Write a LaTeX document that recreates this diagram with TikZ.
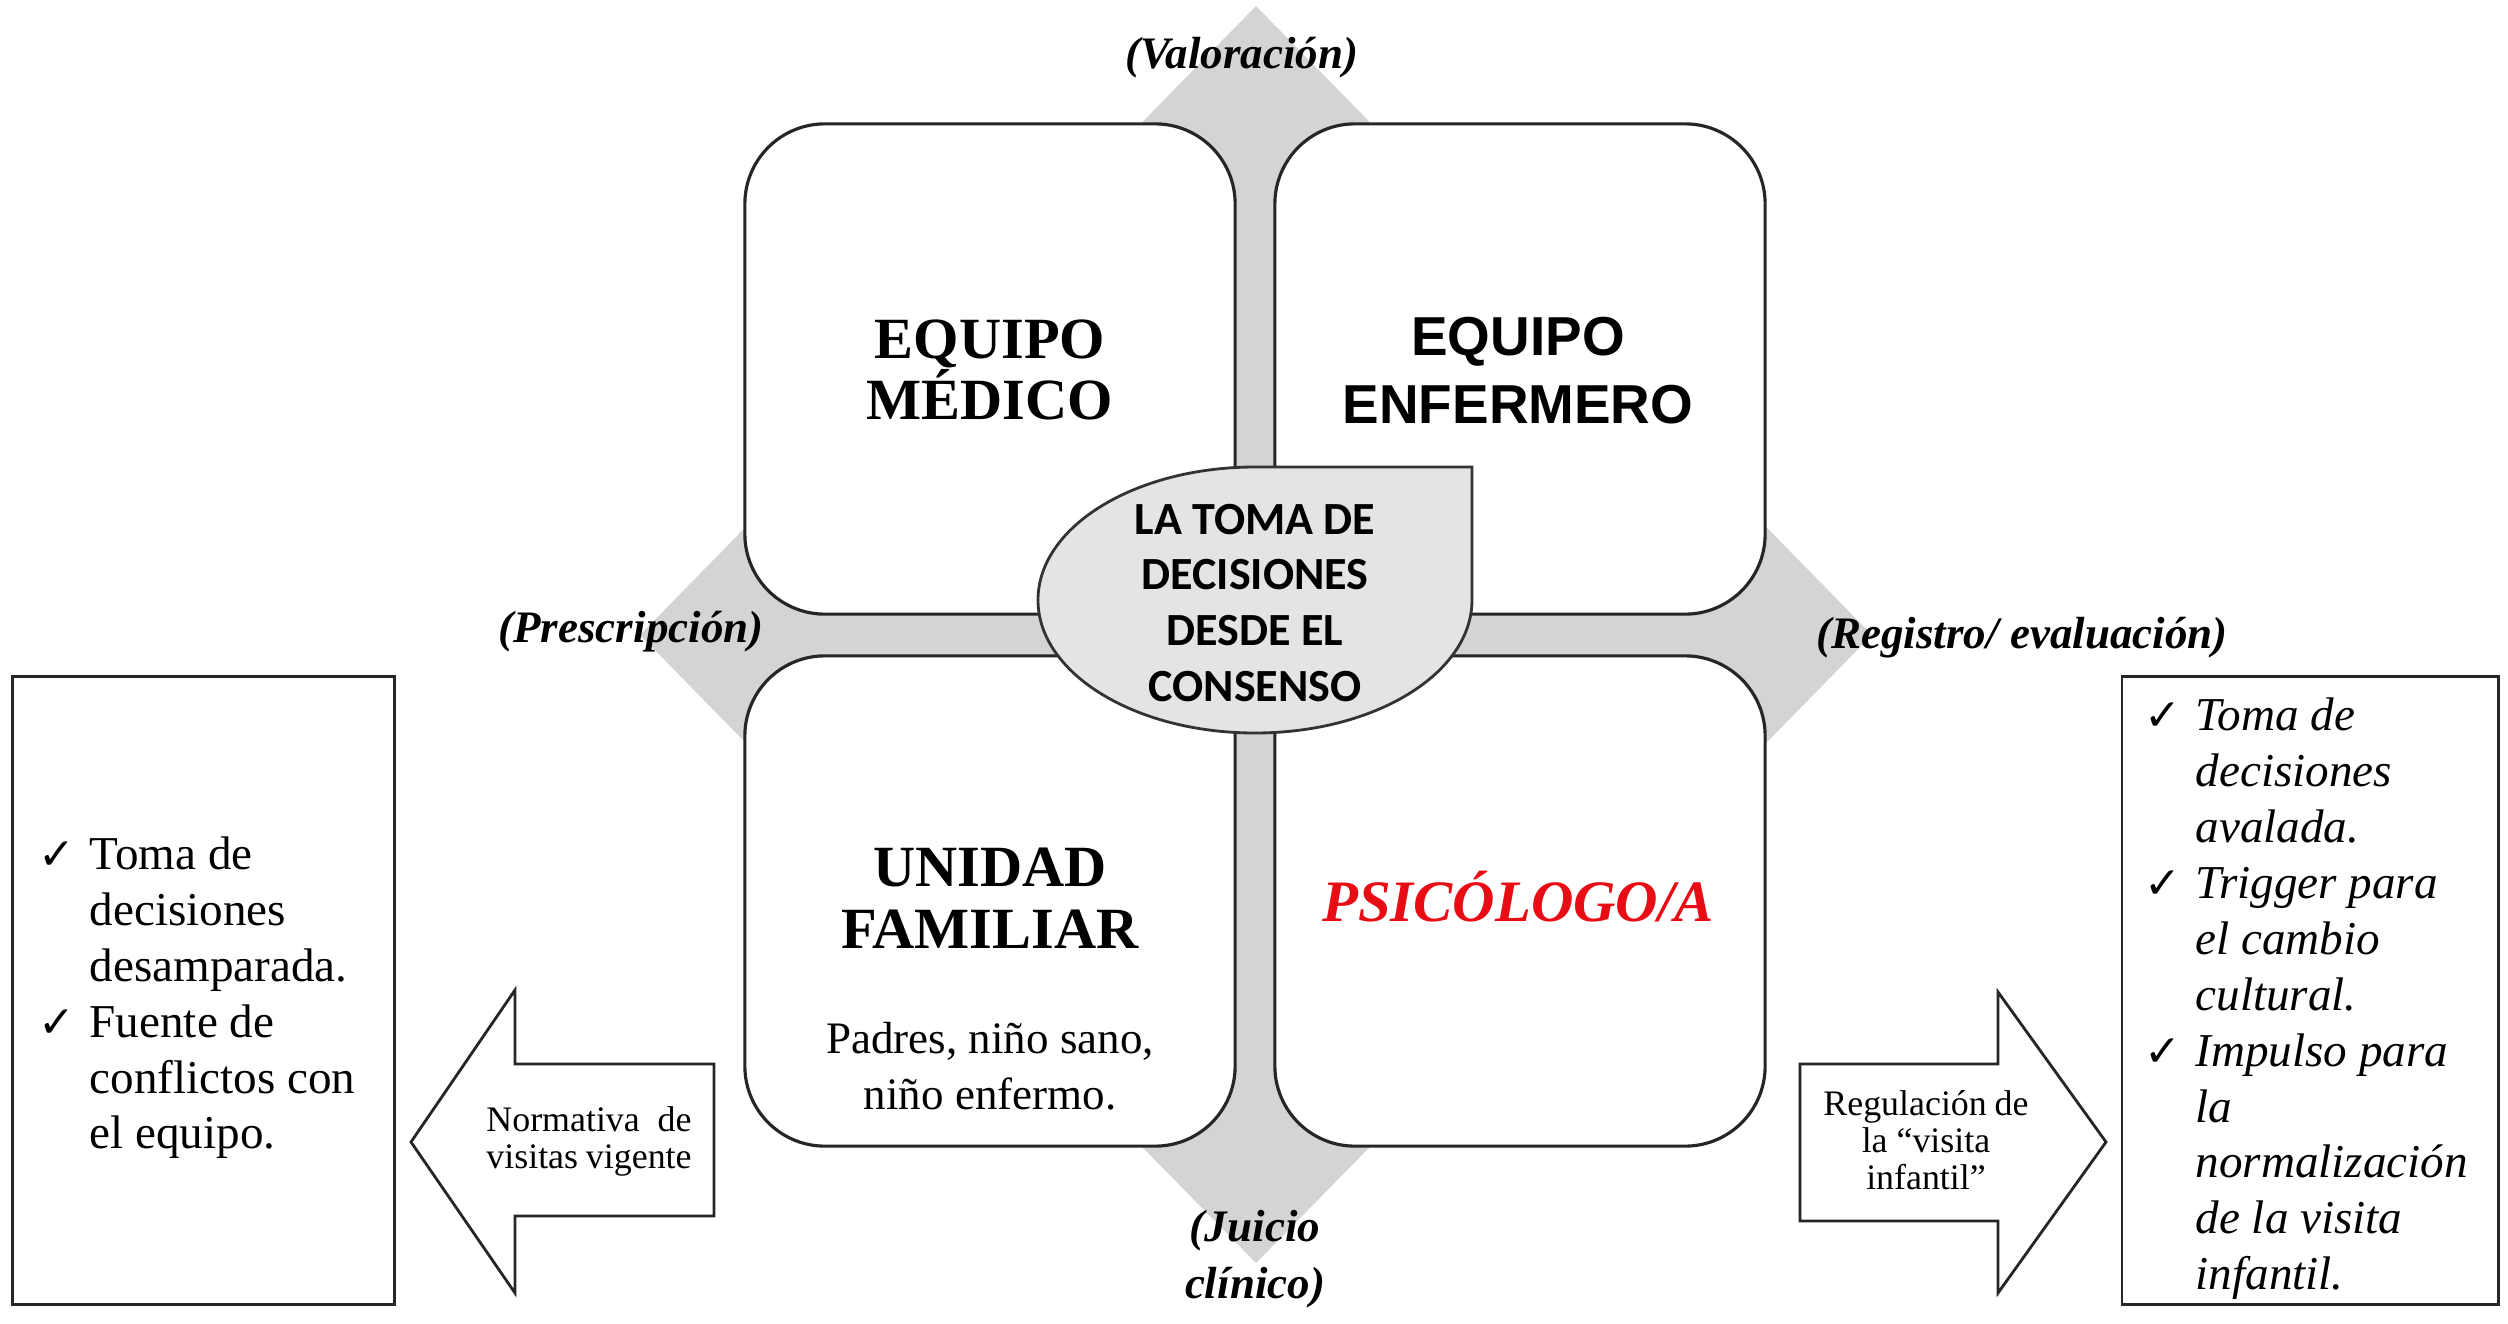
\documentclass[tikz,border=0pt]{standalone}
\usepackage{fontspec}
\setmainfont{Liberation Serif}
\newfontfamily\ArialLike{Liberation Sans}
\newfontfamily\CalibLike{Carlito}
\newfontfamily\DejaLike{DejaVu Sans}
\definecolor{diamondgray}{RGB}{212,212,212}
\definecolor{teargray}{RGB}{228,228,228}
\definecolor{psired}{RGB}{232,12,20}
\newcommand{\chkmark}{\makebox[14.5pt][l]{\DejaLike\fontsize{12.5}{12.5}\selectfont\upshape ✓}}
\begin{document}
\begin{tikzpicture}[x=0.01cm,y=-0.01cm,
  rbox/.style={draw=black!85, line width=0.9pt, fill=white, rounded corners=0.8cm,
    minimum width=4.9cm, minimum height=4.9cm, inner sep=0pt},
  plainbox/.style={draw=black!85, line width=0.8pt, fill=white, inner sep=0pt},
  arrowshape/.style={draw=black!85, line width=0.8pt, fill=white},
  lbl/.style={font=\fontsize{12.8}{16.2}\selectfont\bfseries\itshape, inner sep=0pt, align=center},
  bigserif/.style={font=\fontsize{16.6}{17.4}\selectfont\bfseries, inner sep=0pt, align=center},
  listtext/.style={inner sep=0pt, anchor=west}
]
\useasboundingbox (0,0) rectangle (2508,1324);
% background diamond
\fill[diamondgray] (1256,6) -- (1872,635) -- (1256,1263) -- (640,635) -- cycle;
% four rounded boxes
\node[rbox] (med) at (990,369) {};
\node[rbox] (enf) at (1520,369) {};
\node[rbox] (fam) at (990,901) {};
\node[rbox] (psi) at (1520,901) {};
% central teardrop
\filldraw[fill=teargray, draw=black!80, line width=0.8pt]
  (1472,600) -- (1472,467) -- (1255,467)
  arc[start angle=-90, end angle=-360, x radius=217, y radius=133] -- cycle;
\node[font=\CalibLike\bfseries\fontsize{13.1}{15.9}\selectfont, align=center, inner sep=0pt]
  (cons) at (1255,603) {LA TOMA DE\\DECISIONES\\DESDE EL\\CONSENSO};
% box texts
\node[bigserif] (medt) at (990,370) {EQUIPO\\MÉDICO};
\node[font=\ArialLike\bfseries\fontsize{15.6}{19.3}\selectfont, align=center, inner sep=0pt]
  (enft) at (1518,371) {EQUIPO\\ENFERMERO};
\node[bigserif, font=\fontsize{16.6}{17.6}\selectfont\bfseries] (famt) at (990,898) {UNIDAD\\FAMILIAR};
\node[font=\fontsize{12.8}{15.9}\selectfont, align=center, inner sep=0pt]
  (famsub) at (990,1066) {Padres, niño sano,\\niño enfermo.};
\node[font=\fontsize{16.7}{18}\selectfont\bfseries\itshape, text=psired, inner sep=0pt]
  (psit) at (1518,897) {PSICÓLOGO/A};
% axis labels
\node[lbl] (val) at (1242,58) {(Valoración)};
\node[lbl] (pres) at (631,632) {(Prescripción)};
\node[lbl] (reg) at (2022,638) {(Registro/ evaluación)};
\node[lbl] (jui) at (1255,1259) {(Juicio\\clínico)};
% side boxes
\node[plainbox, minimum width=3.81cm, minimum height=6.27cm] (lbox) at (203.5,990.5) {};
\node[plainbox, minimum width=3.76cm, minimum height=6.27cm] (rbox) at (2310,990.5) {};
\node[listtext, font=\fontsize{13.4}{15.9}\selectfont] (ltext) at (38,998) {%
  \begin{tabular}{@{}l@{}l@{}}
  \chkmark & Toma de\\
   & decisiones\\
   & desamparada.\\
  \chkmark & Fuente de\\
   & conflictos con\\
   & el equipo.
  \end{tabular}};
\node[listtext, font=\fontsize{13.4}{15.9}\selectfont\itshape] (rtext) at (2144,999) {%
  \begin{tabular}{@{}l@{}l@{}}
  \chkmark & Toma de\\
   & decisiones\\
   & avalada.\\
  \chkmark & Trigger para\\
   & el cambio\\
   & cultural.\\
  \chkmark & Impulso para\\
   & la\\
   & normalización\\
   & de la visita\\
   & infantil.
  \end{tabular}};
% arrows
\draw[arrowshape] (411,1142) -- (515,990) -- (515,1064) -- (714,1064) -- (714,1216)
  -- (515,1216) -- (515,1293) -- cycle;
\draw[arrowshape] (1800,1064) -- (1998,1064) -- (1998,992) -- (2106,1142) -- (1998,1293)
  -- (1998,1221) -- (1800,1221) -- cycle;
\node[font=\fontsize{10.2}{10.5}\selectfont, align=center, inner sep=0pt]
  (normt) at (589,1141) {\makebox[2.05cm][s]{Normativa de}\\\makebox[2.05cm][s]{visitas vigente}};
\node[font=\fontsize{10.2}{10.5}\selectfont, align=center, inner sep=0pt]
  (regt) at (1926,1140) {\makebox[2.05cm][s]{Regulación de}\\la “visita\\infantil”};
\end{tikzpicture}
\end{document}
